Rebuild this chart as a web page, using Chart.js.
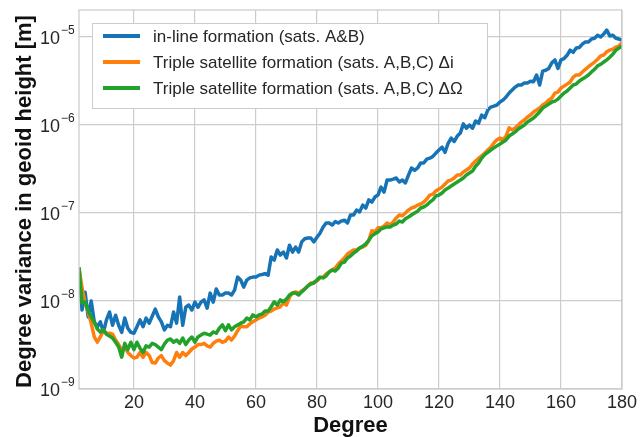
<!DOCTYPE html>
<html><head><meta charset="utf-8">
<script src="https://cdn.jsdelivr.net/npm/chart.js@4/dist/chart.umd.min.js"></script>
<style>html,body{margin:0;padding:0;background:#fff}#wrap{width:641px;height:437px}</style>
</head><body><div id="wrap"><canvas id="c" width="641" height="437"></canvas></div>
<script>
const DEGREES = [2,3,4,5,6,7,8,9,10,11,12,13,14,15,16,17,18,19,20,21,22,23,24,25,26,27,28,29,30,
31,32,33,34,35,36,37,38,39,40,41,42,43,44,45,46,47,48,49,50,51,52,53,54,55,56,57,58,59,60,
61,62,63,64,65,66,67,68,69,70,71,72,73,74,75,76,77,78,79,80,81,82,83,84,85,86,87,88,89,90,
91,92,93,94,95,96,97,98,99,100,101,102,103,104,105,106,107,108,109,110,111,112,113,114,115,116,117,118,119,120,
121,122,123,124,125,126,127,128,129,130,131,132,133,134,135,136,137,138,139,140,141,142,143,144,145,146,147,148,149,150,
151,152,153,154,155,156,157,158,159,160,161,162,163,164,165,166,167,168,169,170,171,172,173,174,175,176,177,178,179,180];

const INLINE_AB = [2.4e-8,7.9e-9,1.26e-8,6.6e-9,1.0e-8,5.8e-9,5.1e-9,5.8e-9,4.4e-9,
6.1e-9,7.5e-9,5.3e-9,6.9e-9,5.3e-9,4.4e-9,6.4e-9,4.9e-9,4.4e-9,4.3e-9,
5.1e-9,6.1e-9,5.1e-9,6.4e-9,5.6e-9,6.7e-9,8.1e-9,6.6e-9,5.8e-9,4.7e-9,
5.3e-9,5.1e-9,7.5e-9,5.6e-9,1.11e-8,5.3e-9,8.5e-9,9.0e-9,7.9e-9,9.7e-9,
8.5e-9,9.7e-9,1.03e-8,8.3e-9,1.23e-8,9.7e-9,1.37e-8,1.17e-8,1.17e-8,1.23e-8,
1.23e-8,1.17e-8,1.33e-8,1.87e-8,1.73e-8,1.44e-8,1.73e-8,1.83e-8,1.87e-8,1.87e-8,
1.97e-8,2.0e-8,2.05e-8,1.97e-8,3.16e-8,2.92e-8,3.8e-8,3.33e-8,3.6e-8,3.08e-8,
4.3e-8,3.6e-8,4.1e-8,3.6e-8,4.7e-8,5.1e-8,5.2e-8,5.2e-8,4.7e-8,5.3e-8,
5.9e-8,6.9e-8,7.7e-8,7.7e-8,7.3e-8,8.0e-8,7.7e-8,8.1e-8,8.3e-8,7.7e-8,
9.5e-8,9.5e-8,1.08e-7,1.03e-7,1.23e-7,1.14e-7,1.41e-7,1.33e-7,1.52e-7,1.6e-7,
1.97e-7,1.73e-7,2.37e-7,2.37e-7,2.43e-7,2.5e-7,2.25e-7,2.37e-7,2.2e-7,2.7e-7,
3.25e-7,3.05e-7,3.25e-7,3.7e-7,3.7e-7,4.1e-7,4.2e-7,4.4e-7,4.8e-7,5.2e-7,
5.6e-7,4.9e-7,6.2e-7,7.1e-7,6.5e-7,7.5e-7,8.1e-7,1.03e-6,9.2e-7,1.0e-6,
9.2e-7,1.11e-6,1.05e-6,1.3e-6,1.21e-6,1.48e-6,1.6e-6,1.64e-6,1.69e-6,1.83e-6,
1.92e-6,2.08e-6,2.31e-6,2.5e-6,2.7e-6,2.85e-6,2.85e-6,3.0e-6,3.0e-6,3.15e-6,
3.1e-6,3.7e-6,2.85e-6,4.1e-6,4.2e-6,4.4e-6,5.1e-6,5.5e-6,4.4e-6,5.5e-6,
5.7e-6,6.2e-6,7.1e-6,6.7e-6,7.5e-6,7.6e-6,8.3e-6,8.8e-6,8.8e-6,9.5e-6,
9.7e-6,1.05e-5,1.0e-5,1.08e-5,1.2e-5,1.03e-5,1.05e-5,9.7e-6,9.5e-6,9.2e-6];

const TRIPLE_DI = [2.4e-8,1.4e-8,9.5e-9,7.5e-9,5.6e-9,3.9e-9,3.4e-9,3.9e-9,4.7e-9,
4.3e-9,4.3e-9,4.2e-9,3.6e-9,3.2e-9,2.8e-9,3.0e-9,2.6e-9,2.4e-9,2.25e-9,
2.3e-9,2.6e-9,2.3e-9,2.6e-9,2.4e-9,2.0e-9,1.97e-9,2.25e-9,2.4e-9,2.1e-9,
1.97e-9,1.87e-9,2.1e-9,2.6e-9,2.3e-9,2.6e-9,2.4e-9,2.6e-9,2.85e-9,3.0e-9,
3.2e-9,3.2e-9,3.3e-9,3.1e-9,3.0e-9,3.3e-9,3.5e-9,3.6e-9,3.4e-9,3.5e-9,
3.9e-9,3.6e-9,4.0e-9,4.6e-9,5.2e-9,5.1e-9,5.1e-9,5.5e-9,5.8e-9,6.1e-9,
6.4e-9,6.6e-9,6.9e-9,7.5e-9,7.7e-9,8.1e-9,8.35e-9,8.6e-9,9.5e-9,9.0e-9,
1.11e-8,1.23e-8,1.27e-8,1.23e-8,1.3e-8,1.37e-8,1.48e-8,1.6e-8,1.64e-8,1.69e-8,
1.83e-8,1.87e-8,2.03e-8,2.14e-8,2.25e-8,2.37e-8,2.63e-8,2.85e-8,3.08e-8,3.42e-8,
3.6e-8,3.8e-8,3.8e-8,4.0e-8,4.1e-8,4.3e-8,4.9e-8,6.3e-8,6.1e-8,6.8e-8,
6.8e-8,7.1e-8,7.7e-8,7.3e-8,7.9e-8,8.8e-8,9.5e-8,9.3e-8,1.0e-7,1.08e-7,
1.14e-7,1.17e-7,1.23e-7,1.27e-7,1.33e-7,1.44e-7,1.6e-7,1.64e-7,1.78e-7,1.87e-7,
1.97e-7,2.14e-7,2.31e-7,2.37e-7,2.5e-7,2.7e-7,2.7e-7,2.92e-7,3.08e-7,3.25e-7,
3.6e-7,3.9e-7,4.2e-7,4.45e-7,4.8e-7,5.2e-7,5.6e-7,6.25e-7,6.8e-7,7.1e-7,
6.8e-7,7.5e-7,9.3e-7,8.8e-7,9.3e-7,1.0e-6,1.08e-6,1.14e-6,1.23e-6,1.3e-6,
1.41e-6,1.48e-6,1.56e-6,1.69e-6,1.78e-6,1.92e-6,2.03e-6,2.31e-6,2.37e-6,2.63e-6,
2.77e-6,2.92e-6,3.08e-6,3.5e-6,3.7e-6,3.7e-6,4.0e-6,4.3e-6,4.6e-6,4.9e-6,
5.2e-6,5.6e-6,6.1e-6,6.25e-6,6.8e-6,7.1e-6,7.3e-6,7.7e-6,7.9e-6,8.6e-6];

const TRIPLE_DO = [2.4e-8,9.5e-9,9.8e-9,7.7e-9,6.6e-9,5.8e-9,4.8e-9,4.45e-9,4.7e-9,
4.2e-9,4.0e-9,3.8e-9,3.4e-9,3.0e-9,2.3e-9,3.3e-9,2.8e-9,3.4e-9,2.8e-9,
3.4e-9,2.9e-9,2.6e-9,3.1e-9,3.0e-9,3.3e-9,3.2e-9,3.0e-9,2.8e-9,3.25e-9,
3.6e-9,3.7e-9,3.4e-9,3.6e-9,3.3e-9,3.8e-9,3.2e-9,3.6e-9,3.9e-9,3.4e-9,
3.9e-9,4.1e-9,4.3e-9,4.2e-9,4.1e-9,4.45e-9,4.3e-9,4.9e-9,5.35e-9,4.6e-9,
5.35e-9,4.7e-9,5.1e-9,5.35e-9,5.6e-9,5.8e-9,6.4e-9,6.1e-9,6.95e-9,6.6e-9,
6.95e-9,7.1e-9,7.7e-9,7.7e-9,8.6e-9,9.8e-9,9.0e-9,1.03e-8,9.8e-9,1.05e-8,
1.17e-8,1.23e-8,1.23e-8,1.17e-8,1.27e-8,1.37e-8,1.48e-8,1.56e-8,1.6e-8,1.73e-8,
1.87e-8,1.83e-8,1.92e-8,2.14e-8,2.25e-8,2.19e-8,2.37e-8,2.7e-8,2.77e-8,3.08e-8,
3.25e-8,3.5e-8,3.7e-8,4.0e-8,4.2e-8,4.45e-8,4.9e-8,5.5e-8,5.8e-8,6.1e-8,
6.6e-8,6.8e-8,6.95e-8,6.95e-8,7.3e-8,7.5e-8,8.1e-8,7.9e-8,8.6e-8,9.0e-8,
9.5e-8,1.0e-7,1.05e-7,1.14e-7,1.17e-7,1.23e-7,1.33e-7,1.41e-7,1.56e-7,1.6e-7,
1.69e-7,1.83e-7,1.92e-7,2.03e-7,2.14e-7,2.25e-7,2.37e-7,2.5e-7,2.7e-7,2.85e-7,
3.0e-7,3.4e-7,3.7e-7,4.2e-7,4.6e-7,4.9e-7,5.2e-7,5.5e-7,5.8e-7,6.1e-7,
6.4e-7,6.8e-7,7.5e-7,7.9e-7,8.35e-7,9.0e-7,9.5e-7,1.0e-6,1.08e-6,1.14e-6,
1.2e-6,1.3e-6,1.41e-6,1.56e-6,1.64e-6,1.73e-6,1.83e-6,1.87e-6,1.97e-6,2.14e-6,
2.31e-6,2.43e-6,2.63e-6,2.85e-6,2.92e-6,3.16e-6,3.33e-6,3.5e-6,3.7e-6,4.0e-6,
4.3e-6,4.7e-6,4.9e-6,5.2e-6,5.5e-6,5.9e-6,6.4e-6,7.1e-6,7.5e-6,7.9e-6];

const SERIES_LABELS = ['in-line formation (sats. A&B)',
  'Triple satellite formation (sats. A,B,C) \u0394i',
  'Triple satellite formation (sats. A,B,C) \u0394\u03A9'];
const X_TICKS = [20,40,60,80,100,120,140,160,180];
const Y_TICKS = [1e-9,1e-8,1e-7,1e-6,1e-5];
const X_TITLE = 'Degree';
const Y_TITLE = 'Degree variance in geoid height [m]';

const COLORS = ['#1673b6','#ff7f0e','#22a12b'];
const GRID = '#cccccc';
const TXT = '#262626';
const FONT = '"Liberation Sans", Arial, sans-serif';

function pts(arr){ return DEGREES.map((d,i)=>({x:d, y:arr[i]})); }

const overlay = {
  id:'overlay',
  afterDraw(chart){
    const ctx = chart.ctx, a = chart.chartArea, y = chart.scales.y;
    ctx.save();
    ctx.strokeStyle = GRID; ctx.lineWidth = 1.25;
    ctx.strokeRect(a.left, a.top, a.right-a.left, a.bottom-a.top);
    ctx.fillStyle = TXT;
    y.ticks.forEach(t=>{
      const py = y.getPixelForValue(t.value);
      const e = Math.round(Math.log10(t.value));
      ctx.font = '18px ' + FONT; ctx.textAlign='right'; ctx.textBaseline='alphabetic';
      ctx.fillText('10', 60, py+6.5);
      ctx.font = '12px ' + FONT; ctx.textAlign='left';
      ctx.fillText('\u2212' + Math.abs(e), 61, py-3);
    });
    ctx.font = 'bold 22px ' + FONT; ctx.textAlign='center'; ctx.textBaseline='alphabetic';
    ctx.fillStyle = '#111';
    ctx.fillText(X_TITLE, (a.left+a.right)/2, 432);
    ctx.save(); ctx.translate(31, (a.top+a.bottom)/2 + 2); ctx.rotate(-Math.PI/2);
    ctx.fillText(Y_TITLE, 0, 0); ctx.restore();
    // legend
    const L = {x:92, y:23, w:395, h:85};
    ctx.fillStyle = '#fff'; ctx.fillRect(L.x, L.y, L.w, L.h);
    ctx.strokeStyle = GRID; ctx.lineWidth = 1; ctx.strokeRect(L.x+0.5, L.y+0.5, L.w, L.h);
    const rows = [36, 62, 88];
    chart.data.datasets.forEach((ds,i)=>{
      ctx.strokeStyle = ds.borderColor; ctx.lineWidth = 4; ctx.lineCap='butt';
      ctx.beginPath(); ctx.moveTo(103, rows[i]); ctx.lineTo(140, rows[i]); ctx.stroke();
      ctx.fillStyle = TXT; ctx.font = '17px ' + FONT; ctx.textAlign='left'; ctx.textBaseline='middle';
      ctx.fillText(ds.label, 153, rows[i]+1);
    });
    ctx.restore();
  }
};

new Chart(document.getElementById('c'), {
  type:'line',
  data:{ datasets:[
    {label:SERIES_LABELS[0], data:pts(INLINE_AB), borderColor:COLORS[0], order:3},
    {label:SERIES_LABELS[1], data:pts(TRIPLE_DI), borderColor:COLORS[1], order:2},
    {label:SERIES_LABELS[2], data:pts(TRIPLE_DO), borderColor:COLORS[2], order:1}
  ]},
  options:{
    responsive:false, animation:false, devicePixelRatio:1,
    layout:{padding:{top:10, right:19, bottom:0, left:0}},
    elements:{ line:{borderWidth:3.5, tension:0, fill:false, borderJoinStyle:'round'}, point:{radius:0} },
    plugins:{ legend:{display:false}, tooltip:{enabled:false} },
    scales:{
      x:{ type:'linear', min:2, max:180,
        afterBuildTicks: s => { s.ticks = X_TICKS.map(v=>({value:v})); },
        afterFit: s => { s.height = 48; },
        grid:{ color:GRID, lineWidth:1.2, drawTicks:false },
        border:{ display:false },
        ticks:{ font:{family:FONT, size:18}, color:TXT, padding:3, maxRotation:0, autoSkip:false, callback: v => String(v) }
      },
      y:{ type:'logarithmic', min:1e-9, max:2.03e-5,
        afterBuildTicks: s => { s.ticks = Y_TICKS.map(v=>({value:v})); },
        afterFit: s => { s.width = 79; },
        grid:{ color:GRID, lineWidth:1.2, drawTicks:false },
        border:{ display:false },
        ticks:{ display:false }
      }
    }
  },
  plugins:[overlay]
});
</script></body></html>
